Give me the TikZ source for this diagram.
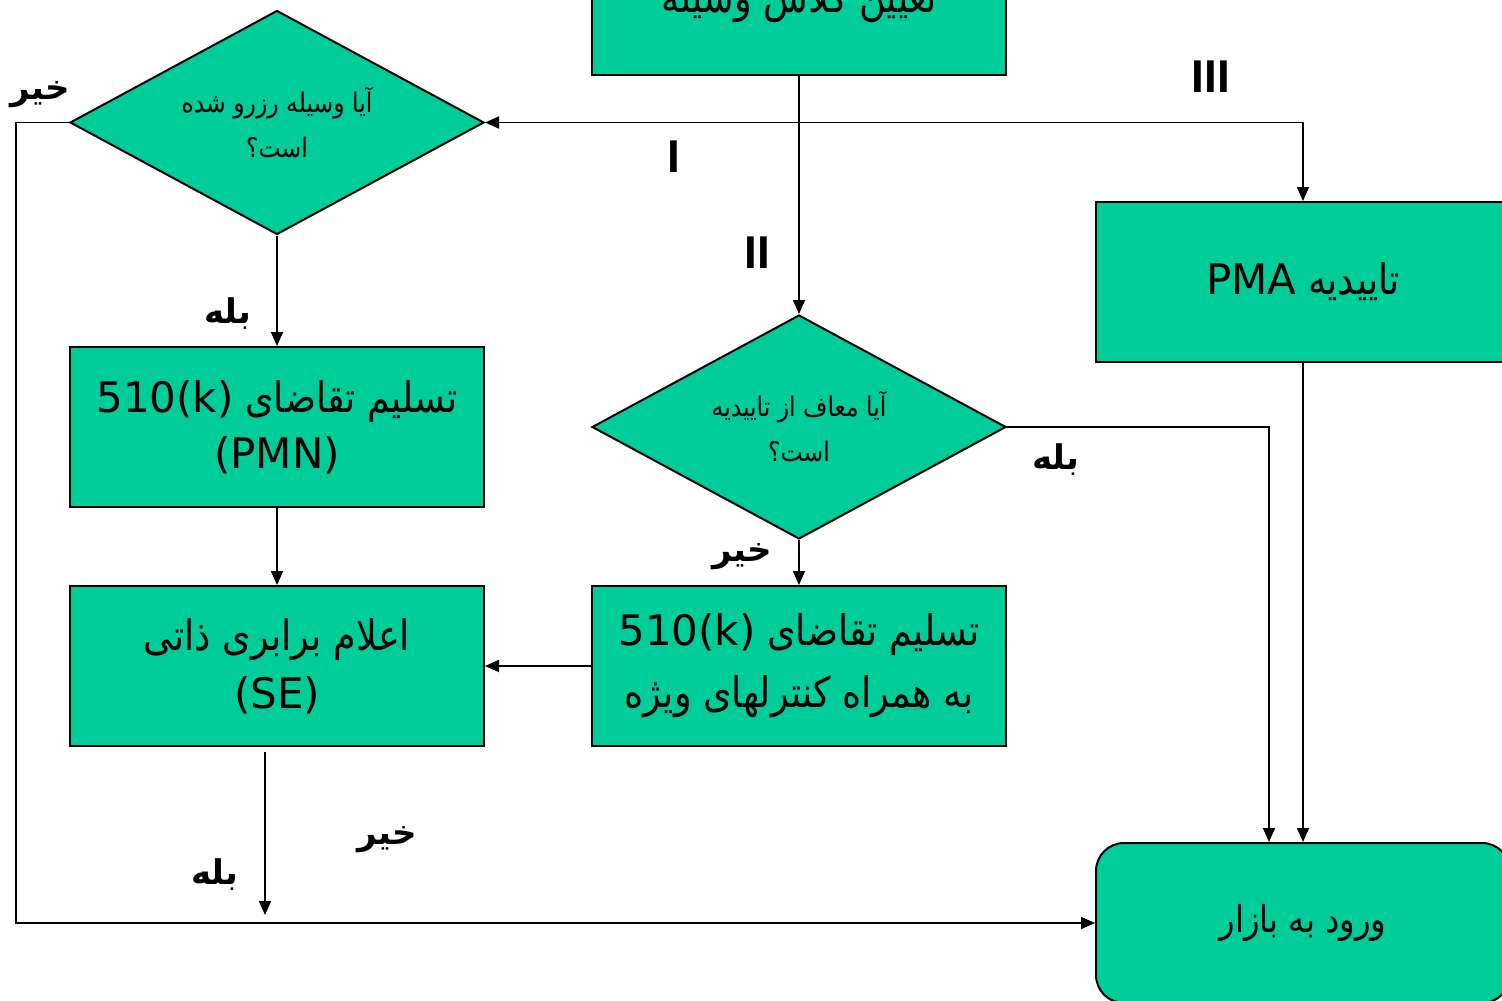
\documentclass[tikz,border=0pt]{standalone}
\usepackage{fontspec}
\setmainfont{DejaVu Sans}
\newfontfamily\fa[Script=Arabic,FakeStretch=0.87]{DejaVu Sans}
\newfontfamily\fab[Script=Arabic]{DejaVu Sans}
\newfontfamily\lat{Liberation Sans}
\TeXXeTstate=1
\usetikzlibrary{shapes.geometric,arrows.meta,calc}
\definecolor{boxgreen}{RGB}{0,204,153}
\newcommand{\rl}[1]{\beginR #1\endR}
\newcommand{\lr}[1]{\beginL {\fab #1}\endL{}}
\tikzset{
  box/.style={draw, line width=2pt, fill=boxgreen, minimum width=414pt, minimum height=160pt,
    inner sep=0pt, align=center, font=\fa\fontsize{42}{56}\selectfont},
  decision/.style={diamond, aspect=1.848, draw, line width=2pt, fill=boxgreen, minimum width=414pt,
    minimum height=224pt, inner sep=0pt, align=center, font=\fa\fontsize{27}{45}\selectfont},
  conn/.style={line width=1.8pt, -{Triangle[length=14pt,width=12pt]}},
  lbl/.style={font=\fab\bfseries\fontsize{34}{36}\selectfont, inner sep=0pt},
  roman/.style={font=\lat\bfseries\fontsize{46}{50}\selectfont, inner sep=0pt}
}
\begin{document}
\begin{tikzpicture}[x=1pt,y=-1pt]
\useasboundingbox (0,0) rectangle (1502,1001);
% nodes
\node[box] (top) at (799,-5) {};
\node[font=\fa\fontsize{42}{56}\selectfont, inner sep=0pt] (toptext) at (799,2) {\rl{تعیین کلاس وسیله}};
\node[decision] (d1) at (277,122.5) {\rl{آیا وسیله رزرو شده}\\\rl{است؟}};
\node[box] (pma) at (1303,282) {\rl{تاییدیه \lr{PMA}}};
\node[decision] (d2) at (799,427) {\rl{آیا معاف از تاییدیه}\\\rl{است؟}};
\node[box] (pmn) at (277,427) {\rl{تسلیم تقاضای \lr{510(k)}}\\{\fab (PMN)}};
\node[box, font=\fa\fontsize{42}{58}\selectfont] (se) at (277,666) {\rl{اعلام برابری ذاتی}\\{\fab (SE)}};
\node[box, font=\fa\fontsize{42}{62}\selectfont] (spc) at (799,666) {\rl{تسلیم تقاضای \lr{510(k)}}\\\rl{به همراه کنترلهای ویژه}};
\node[box, rounded corners=28pt, font=\fa\fontsize{37}{50}\selectfont] (mkt) at (1303,923) {\rl{ورود به بازار}};
% coordinates
\coordinate (j) at (top.south |- d1.east);
\coordinate (seout) at (265,752);
\coordinate (seend) at (265,915);
\coordinate (lc) at (16,122.5);
\coordinate (rc) at (1269,427);
% connectors
\draw[conn] (top.south) -- (d2.north);
\draw[conn] (j) -- (d1.east);
\draw[conn] (j) -| (pma.north);
\draw[conn] (d1.south) -- (pmn.north);
\draw[conn] (pmn.south) -- (se.north);
\draw[conn] (d2.south) -- (spc.north);
\draw[conn] (spc.west) -- (se.east);
\draw[conn] (pma.south) -- (pma.south |- mkt.north);
\draw[conn] (d2.east) -- (rc) -- (rc |- mkt.north);
\draw[conn] (d1.west) -- (lc) |- (mkt.west);
\draw[conn] (seout) -- (seend);
% labels
\node[roman] (l3) at (1211,77) {III};
\node[roman] (l1) at (674,157) {I};
\node[roman] (l2) at (757,253) {II};
\node[lbl] (n1) at (40,95) {\rl{خیر}};
\node[lbl] (y1) at (228,314) {\rl{بله}};
\node[lbl] (y2) at (1056,460) {\rl{بله}};
\node[lbl] (n2) at (742,557) {\rl{خیر}};
\node[lbl] (n3) at (387,840) {\rl{خیر}};
\node[lbl] (y3) at (215,875) {\rl{بله}};
\end{tikzpicture}
\end{document}
